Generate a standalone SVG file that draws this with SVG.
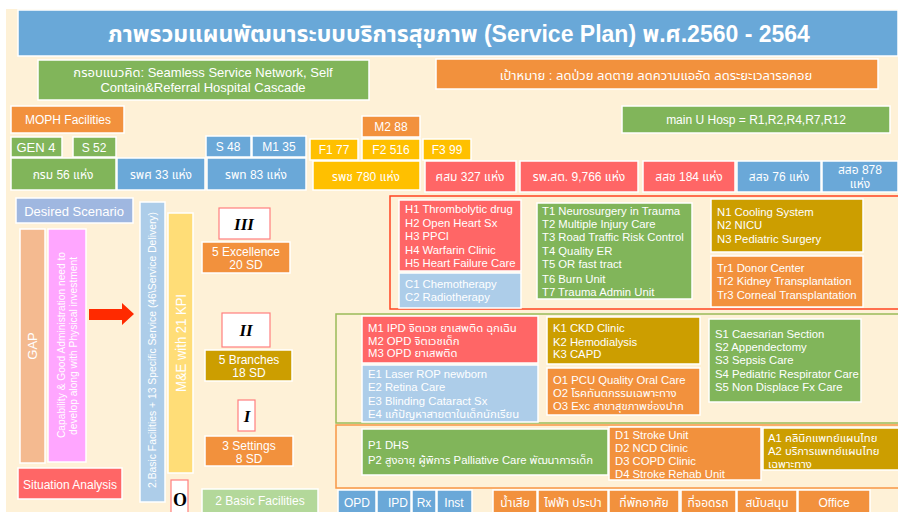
<svg xmlns="http://www.w3.org/2000/svg" width="898" height="512" viewBox="0 0 898 512">
<defs>
<style>
text{font-family:"Liberation Sans","Noto Sans Thai","Noto Sans",sans-serif;fill:#fff;font-size:12px}
.c{text-anchor:middle}
.l{font-size:11.3px}
.b{stroke:#fff;stroke-width:1.5}
.g{fill:#81B55A}.o{fill:#F2913D}.y{fill:#FFC000}.r{fill:#FF6666}.bl{fill:#6AA8D8}
.dy{fill:#CC9E00}.lb{fill:#ADCDE9}.lg{fill:#B3D89A}
.rm{fill:#fff;stroke:#FF7F7F;stroke-width:1.2}
.rn{font-family:"Liberation Serif",serif;font-weight:bold;font-style:italic;fill:#000;font-size:17px;text-anchor:middle}
.t13{font-size:13px}
</style>
</defs>
<rect x="0" y="0" width="898" height="512" fill="#fff"/>
<rect x="6" y="9" width="892" height="503" fill="#FEF1D7"/>

<g id="title"><rect x="18" y="10" width="880" height="46" fill="#69A8D8" class="b"/>
<text x="459" y="42" class="c" style="font-size:23px;font-weight:bold">ภาพรวมแผนพัฒนาระบบบริการสุขภาพ (Service Plan) พ.ศ.2560 - 2564</text></g>

<g id="framework"><rect x="38" y="60" width="331" height="40" class="g b"/>
<text x="203" y="77" class="c t13">กรอบแนวคิด: Seamless Service Network, Self</text>
<text x="203" y="92" class="c t13">Contain&amp;Referral Hospital Cascade</text></g>

<g id="goal"><rect x="436" y="59" width="442" height="30" class="o b"/>
<text x="656" y="80" class="c t13">เป้าหมาย : ลดป่วย ลดตาย ลดความแออัด ลดระยะเวลารอคอย</text></g>

<g id="moph"><rect x="11" y="106" width="113" height="27" class="o b"/><text x="68" y="124" class="c">MOPH Facilities</text></g>
<g id="gen4"><rect x="11" y="137" width="51" height="20" class="g b"/><text x="36" y="152" class="c t13">GEN 4</text></g>
<g id="s52"><rect x="73" y="137" width="43" height="20" class="g b"/><text x="94" y="152" class="c">S 52</text></g>
<g id="s48"><rect x="206" y="136" width="45" height="21" class="bl b"/><text x="228" y="151" class="c">S 48</text></g>
<g id="m135"><rect x="252" y="136" width="54" height="21" class="bl b"/><text x="279" y="151" class="c">M1 35</text></g>
<g id="m288"><rect x="362" y="116" width="58" height="21" class="o b"/><text x="391" y="131" class="c">M2 88</text></g>
<g id="f177"><rect x="310" y="139" width="48" height="21" class="y b"/><text x="334" y="154" class="c">F1 77</text></g>
<g id="f2516"><rect x="362" y="139" width="58" height="21" class="y b"/><text x="391" y="154" class="c">F2 516</text></g>
<g id="f399"><rect x="423" y="139" width="48" height="21" class="y b"/><text x="447" y="154" class="c">F3 99</text></g>
<g id="mainu"><rect x="622" y="106" width="268" height="27" class="g b"/><text x="756" y="124" class="c">main U Hosp = R1,R2,R4,R7,R12</text></g>

<g id="krom"><rect x="11" y="158" width="105" height="32" class="g b"/><text x="63" y="179" class="c">กรม 56 แห่ง</text></g>
<g id="rps"><rect x="117" y="158" width="88" height="32" class="bl b"/><text x="161" y="179" class="c">รพศ 33 แห่ง</text></g>
<g id="rpt"><rect x="207" y="158" width="99" height="32" class="bl b"/><text x="256" y="179" class="c">รพท 83 แห่ง</text></g>
<g id="rpc"><rect x="313" y="161" width="107" height="29" class="y b"/><text x="366" y="181" class="c">รพช  780 แห่ง</text></g>
<g id="ssm"><rect x="425" y="161" width="91" height="31" class="r b"/><text x="470" y="181" class="c">ศสม 327 แห่ง</text></g>
<g id="rpst"><rect x="520" y="161" width="118" height="31" class="r b"/><text x="579" y="181" class="c">รพ.สต. 9,766 แห่ง</text></g>
<g id="ssc"><rect x="643" y="161" width="92" height="31" class="r b"/><text x="689" y="181" class="c">สสช 184 แห่ง</text></g>
<g id="ssj"><rect x="737" y="161" width="84" height="31" class="bl b"/><text x="779" y="181" class="c">สสจ 76 แห่ง</text></g>
<g id="sso"><rect x="822" y="161" width="76" height="31" class="bl b"/><text x="860" y="174" class="c">สสอ 878</text><text x="860" y="188" class="c">แห่ง</text></g>

<g id="desired"><rect x="16" y="198" width="117" height="25" fill="#9FB7E0" class="b"/><text x="74" y="216" class="c t13">Desired Scenario</text></g>
<g id="gap"><rect x="20" y="229" width="25" height="234" fill="#F4BA90" class="b"/><text transform="translate(37 346) rotate(-90)" class="c t13">GAP</text></g>
<g id="capability"><rect x="48" y="229" width="38" height="233" fill="#FFA6FF" class="b"/>
<text transform="translate(65 345) rotate(-90)" class="c" style="font-size:10.5px" textLength="186" lengthAdjust="spacingAndGlyphs">Capability &amp; Good Administration need to</text>
<text transform="translate(77 346) rotate(-90)" class="c" style="font-size:10.5px" textLength="178" lengthAdjust="spacingAndGlyphs">develop along with Physical investment</text></g>
<g id="situation"><rect x="18" y="468" width="104" height="31" class="r b"/><text x="70" y="489" class="c">Situation Analysis</text></g>

<g id="connectors"><polygon points="89,309 122,309 122,303 134,314 122,325 122,320 89,320" fill="#FF2A00"/></g>

<g id="basic13"><rect x="140" y="202" width="25" height="300" class="lb b"/><text transform="translate(156 350) rotate(-90)" class="c" style="font-size:11px" textLength="276" lengthAdjust="spacingAndGlyphs">2.Basic Facilities + 13 Specific Service (46\Service Delivery)</text></g>
<g id="me"><rect x="168" y="213" width="25" height="260" fill="#FFDD77" class="b"/><text transform="translate(186 343) rotate(-90)" class="c" style="font-size:15px" textLength="98" lengthAdjust="spacingAndGlyphs">M&amp;E with 21 KPI</text></g>

<g id="lvl3"><rect x="219" y="208" width="51" height="31" class="rm"/><text x="244" y="230" class="rn">III</text></g>
<g id="excellence"><rect x="202" y="242" width="88" height="31" class="o b"/><text x="246" y="256" class="c">5 Excellence</text><text x="246" y="269" class="c">20 SD</text></g>
<g id="lvl2"><rect x="222" y="313" width="48" height="34" class="rm"/><text x="246" y="336" class="rn">II</text></g>
<g id="branches"><rect x="205" y="350" width="87" height="31" class="dy b"/><text x="249" y="364" class="c">5 Branches</text><text x="249" y="377" class="c">18 SD</text></g>
<g id="lvl1"><rect x="238" y="400" width="17" height="31" class="rm"/><text x="247" y="422" class="rn">I</text></g>
<g id="settings"><rect x="205" y="436" width="88" height="30" class="o b"/><text x="249" y="450" class="c">3 Settings</text><text x="249" y="463" class="c">8 SD</text></g>
<g id="lvl0"><rect x="171" y="480" width="17" height="34" class="rm"/><text x="180" y="506" class="rn" style="font-style:normal;font-size:18px">O</text></g>
<g id="basic2"><rect x="202" y="489" width="116" height="25" class="lg b"/><text x="260" y="505" class="c">2 Basic Facilities</text></g>

<g id="excellence-frame"><rect x="390" y="196" width="510" height="113" fill="none" stroke="#FF4422" stroke-width="1.5"/></g>
<g id="h"><rect x="399" y="200" width="122" height="71" class="r b"/>
<text x="405" y="213" class="l">H1 Thrombolytic drug</text><text x="405" y="227" class="l">H2 Open Heart Sx</text><text x="405" y="240" class="l">H3 PPCI</text><text x="405" y="254" class="l">H4 Warfarin Clinic</text><text x="405" y="267" class="l">H5 Heart Failure Care</text></g>
<g id="c"><rect x="399" y="273" width="122" height="35" class="lb b"/>
<text x="405" y="288" class="l">C1 Chemotherapy</text><text x="405" y="301" class="l">C2 Radiotherapy</text></g>
<g id="t"><rect x="537" y="203" width="155" height="96" class="g b"/>
<text x="542" y="215" class="l">T1 Neurosurgery in Trauma</text><text x="542" y="228" class="l">T2 Multiple Injury Care</text><text x="542" y="241" class="l">T3 Road Traffic Risk Control</text><text x="542" y="255" class="l">T4 Quality ER</text><text x="542" y="268" class="l">T5 OR fast tract</text><text x="542" y="283" class="l">T6 Burn Unit</text><text x="542" y="296" class="l">T7 Trauma Admin Unit</text></g>
<g id="n"><rect x="711" y="199" width="152" height="53" class="dy b"/>
<text x="717" y="216" class="l">N1 Cooling System</text><text x="717" y="229" class="l">N2 NICU</text><text x="717" y="243" class="l">N3 Pediatric Surgery</text></g>
<g id="tr"><rect x="711" y="256" width="152" height="51" class="o b"/>
<text x="717" y="272" class="l">Tr1 Donor Center</text><text x="717" y="285" class="l">Tr2 Kidney Transplantation</text><text x="717" y="299" class="l">Tr3 Corneal Transplantation</text></g>

<g id="branches-frame"><rect x="336" y="314" width="564" height="109" fill="none" stroke="#9BBB59" stroke-width="1.5"/></g>
<g id="m"><rect x="362" y="316" width="176" height="47" class="r b"/>
<text x="368" y="332" class="l">M1 IPD จิตเวช ยาเสพติด ฉุกเฉิน</text><text x="368" y="345" class="l">M2 OPD จิตเวชเด็ก</text><text x="368" y="357" class="l">M3 OPD ยาเสพติด</text></g>
<g id="e"><rect x="362" y="365" width="176" height="57" class="lb b"/>
<text x="368" y="378" class="l">E1 Laser ROP newborn</text><text x="368" y="391" class="l">E2 Retina Care</text><text x="368" y="405" class="l">E3 Blinding Cataract Sx</text><text x="368" y="418" class="l">E4 แก้ปัญหาสายตาในเด็กนักเรียน</text></g>
<g id="k"><rect x="547" y="317" width="153" height="47" class="dy b"/>
<text x="553" y="332" class="l">K1 CKD Clinic</text><text x="553" y="346" class="l">K2 Hemodialysis</text><text x="553" y="358" class="l">K3 CAPD</text></g>
<g id="o"><rect x="547" y="368" width="153" height="47" class="o b"/>
<text x="553" y="384" class="l">O1 PCU Quality Oral Care</text><text x="553" y="397" class="l">O2 โรคทันตกรรมเฉพาะทาง</text><text x="553" y="410" class="l">O3 Exc สาขาสุขภาพช่องปาก</text></g>
<g id="s"><rect x="709" y="319" width="152" height="83" class="g b"/>
<text x="715" y="338" class="l">S1 Caesarian Section</text><text x="715" y="351" class="l">S2 Appendectomy</text><text x="715" y="364" class="l">S3 Sepsis Care</text><text x="715" y="378" class="l">S4 Pediatric Respirator Care</text><text x="715" y="391" class="l">S5 Non Displace Fx Care</text></g>

<g id="settings-frame"><rect x="336" y="425" width="564" height="63" fill="none" stroke="#F79646" stroke-width="1.5"/></g>
<g id="p"><rect x="362" y="429" width="246" height="46" class="g b"/>
<text x="368" y="449" class="l">P1 DHS</text><text x="368" y="464" class="l">P2 สูงอายุ ผู้พิการ Palliative Care พัฒนาการเด็ก</text></g>
<g id="d"><rect x="609" y="427" width="152" height="53" class="o b"/>
<text x="615" y="439" class="l">D1 Stroke Unit</text><text x="615" y="452" class="l">D2 NCD Clinic</text><text x="615" y="465" class="l">D3 COPD Clinic</text><text x="615" y="478" class="l">D4 Stroke Rehab Unit</text></g>
<g id="a"><rect x="763" y="428" width="137" height="42" class="dy b"/>
<text x="768" y="442" class="l">A1 คลินิกแพทย์แผนไทย</text><text x="768" y="455" class="l">A2 บริการแพทย์แผนไทย</text><text x="768" y="468" class="l">เฉพาะทาง</text></g>

<g id="opd"><rect x="338" y="490" width="38" height="24" class="bl b"/><text x="357" y="507" class="c">OPD</text></g>
<g id="ipd"><rect x="377" y="490" width="34" height="24" class="bl b"/><text x="398" y="507" class="c">IPD</text></g>
<g id="rx"><rect x="412" y="490" width="24" height="24" class="bl b"/><text x="424" y="507" class="c">Rx</text></g>
<g id="inst"><rect x="437" y="490" width="35" height="24" class="bl b"/><text x="454" y="507" class="c">Inst</text></g>
<g id="wastewater"><rect x="493" y="490" width="44" height="24" class="o b"/><text x="515" y="507" class="c">น้ำเสีย</text></g>
<g id="utility"><rect x="538" y="490" width="70" height="24" class="o b"/><text x="573" y="507" class="c">ไฟฟ้า ประปา</text></g>
<g id="housing"><rect x="609" y="490" width="70" height="24" class="o b"/><text x="644" y="507" class="c">ที่พักอาศัย</text></g>
<g id="parking"><rect x="681" y="490" width="55" height="24" class="o b"/><text x="708" y="507" class="c">ที่จอดรถ</text></g>
<g id="support"><rect x="737" y="490" width="60" height="24" class="o b"/><text x="767" y="507" class="c">สนับสนุน</text></g>
<g id="office"><rect x="798" y="490" width="72" height="24" class="o b"/><text x="834" y="507" class="c">Office</text></g>
</svg>
